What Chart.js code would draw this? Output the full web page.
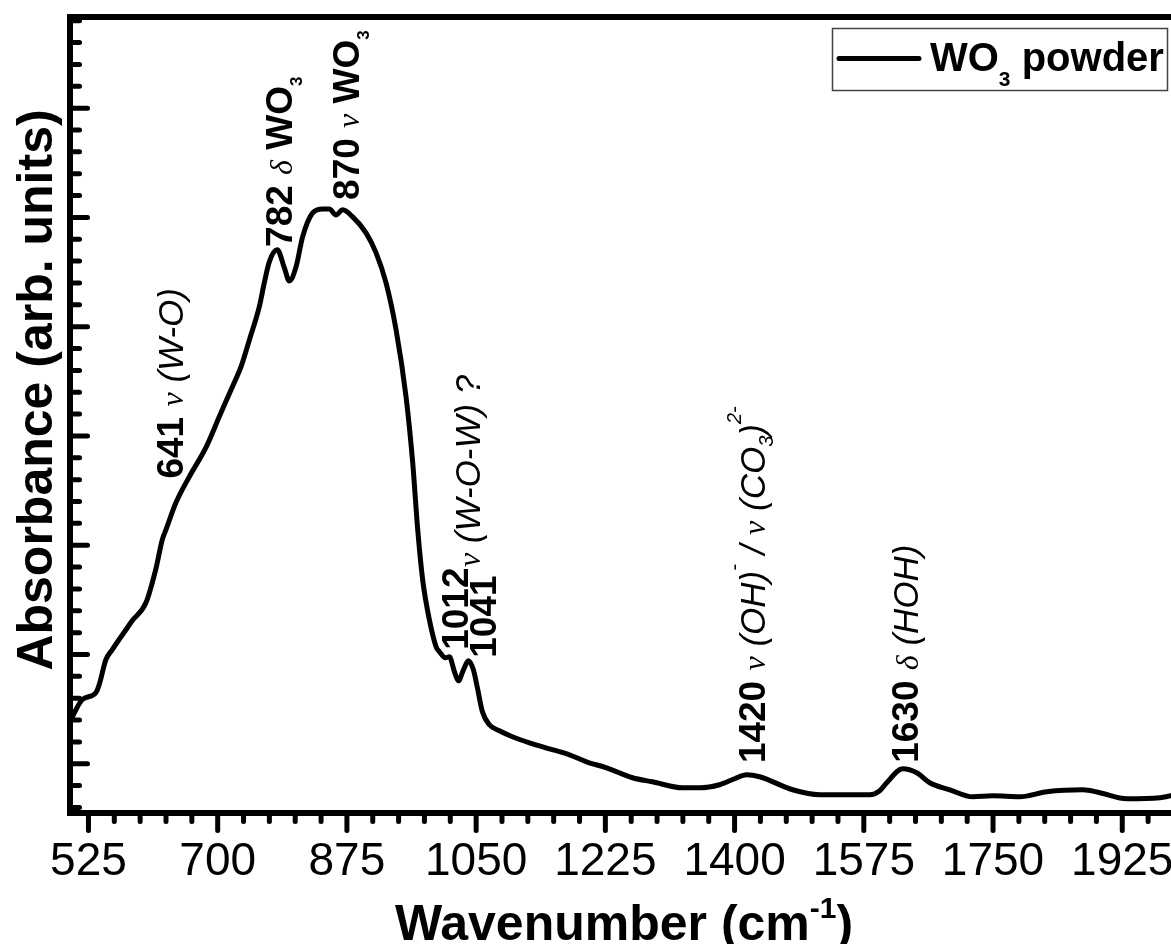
<!DOCTYPE html>
<html>
<head>
<meta charset="utf-8">
<script src="https://cdn.jsdelivr.net/npm/chart.js@4.4.1/dist/chart.umd.min.js"></script>
<style>
    html, body { margin: 0; padding: 0; background: #fff; overflow: hidden; }
    #wrap { width: 1171px; height: 944px; }
</style>
</head>
<body>
<div id="wrap"><canvas id="spectrum" width="1171" height="944"></canvas></div>
<script>
// FTIR spectrum - WO3 powder
const wavenumbers = [
    501.1, 516.5, 535.0, 539.5, 548.6, 557.1, 575.7, 584.2, 602.8, 616.3,
    624.9, 629.9, 643.4, 661.5, 684.5, 702.1, 719.8, 731.5, 742.9, 756.3,
    763.1, 769.9, 780.7, 790.3, 797.0, 806.1, 815.0, 828.6, 842.1, 851.2,
    860.3, 869.2, 882.8, 900.9, 914.5, 928.0, 941.6, 955.1, 964.1, 970.9,
    977.6, 986.7, 995.8, 1000.3, 1008.4, 1013.8, 1020.6, 1026.0, 1032.8, 1039.5,
    1046.3, 1051.7, 1058.5, 1068.0, 1081.5, 1099.2, 1122.2, 1149.3, 1176.4, 1199.5,
    1226.6, 1261.8, 1288.9, 1329.6, 1352.6, 1379.7, 1400.0, 1416.3, 1433.9, 1478.6,
    1515.2, 1555.9, 1583.0, 1596.5, 1606.0, 1627.7, 1646.7, 1664.3, 1691.4, 1722.6,
    1749.7, 1786.3, 1822.9, 1871.7, 1894.7, 1931.3, 1976.0, 1990.9
];
const absorbance = [
    0.403, 0.586, 0.650, 0.723, 0.952, 1.043, 1.226, 1.308, 1.473, 1.784,
    2.049, 2.141, 2.388, 2.626, 2.900, 3.175, 3.449, 3.632, 3.879, 4.181,
    4.401, 4.593, 4.703, 4.538, 4.419, 4.547, 4.822, 5.041, 5.078, 5.078,
    5.023, 5.069, 5.005, 4.859, 4.675, 4.401, 3.971, 3.358, 2.754, 2.141,
    1.683, 1.317, 1.070, 1.025, 0.970, 0.979, 0.842, 0.759, 0.860, 0.942,
    0.860, 0.695, 0.476, 0.357, 0.302, 0.247, 0.192, 0.137, 0.082, 0.018,
    -0.037, -0.128, -0.165, -0.220, -0.220, -0.192, -0.137, -0.101, -0.119, -0.238,
    -0.284, -0.284, -0.284, -0.247, -0.174, -0.046, -0.082, -0.174, -0.238, -0.302,
    -0.293, -0.302, -0.256, -0.238, -0.265, -0.320, -0.311, -0.293
];
const xTickLabels = [525, 700, 875, 1050, 1225, 1400, 1575, 1750, 1925];
const yMajorTicks = [0, 1, 2, 3, 4, 5, 6];
const seriesName = 'WO3 powder';

const X_MIN = 500, X_MAX = 1991;
const Y_MIN = -0.446, Y_MAX = 6.834;

// fonts
const SANS = '"Liberation Sans", Arial, sans-serif';
const B = 'bold 37px ' + SANS;
const I = 'italic 35px ' + SANS;
const G = 'italic 32px "Liberation Serif", serif';
const SB = 'bold 17px ' + SANS;
const SI = 'italic 20px ' + SANS;

// peak labels, anchored in data units (start of the rotated baseline)
const peakLabels = [
    { at: [653, 2.61], parts: [['641 ', B], ['ν', G], [' (W-O)', I]] },
    { at: [800.6, 4.73], parts: [['782 ', B], ['δ', G], [' WO', B], ['3', SB, 10]] },
    { at: [890.9, 5.16], parts: [['870 ', B], ['ν', G], [' WO', B], ['3', SB, 10]] },
    { at: [1038.6, 1.043], parts: [['1012', B]] },
    { at: [1055.8, 1.80], parts: [['ν', G], [' (W-O-W) ?', I]] },
    { at: [1077.1, 0.97], parts: [['1041', B]] },
    { at: [1440.7, 0.006], parts: [['1420 ', B], ['ν', G], [' (OH)', I], ['-', SI, -24], [' / ', I], ['ν', G], [' (CO', I], ['3', SI, 8], [')', I], ['2-', SI, -24]] },
    { at: [1648.1, 0.009], parts: [['1630 ', B], ['δ', G], [' (HOH)', I]] }
];

function drawRich(ctx, x, y, angle, parts, align) {
    ctx.save();
    ctx.translate(x, y);
    ctx.rotate(angle);
    ctx.textBaseline = 'alphabetic';
    ctx.textAlign = 'left';
    let total = 0;
    parts.forEach(p => { ctx.font = p[1]; total += ctx.measureText(p[0]).width; });
    let cx = align === 'center' ? -total / 2 : 0;
    parts.forEach(p => {
        ctx.font = p[1];
        ctx.fillText(p[0], cx, p[2] || 0);
        cx += ctx.measureText(p[0]).width;
    });
    ctx.restore();
}

const spectrumDecor = {
    id: 'spectrumDecor',
    afterDraw(chart) {
        const { ctx, chartArea: a, scales: { x, y } } = chart;
        ctx.save();
        ctx.strokeStyle = '#000';
        ctx.fillStyle = '#000';

        // top frame
        ctx.lineWidth = 6;
        ctx.beginPath();
        ctx.moveTo(a.left - 3, a.top);
        ctx.lineTo(a.right, a.top);
        ctx.stroke();

        // ticks
        ctx.lineWidth = 5;
        ctx.lineCap = 'round';
        const xStep = (xTickLabels[1] - xTickLabels[0]) / 5;
        let xv = xTickLabels[0];
        while (xv - xStep >= x.min) xv -= xStep;
        for (; xv <= x.max; xv += xStep) {
            const major = xTickLabels.some(t => Math.abs(t - xv) < 1e-6);
            const px = x.getPixelForValue(xv);
            ctx.beginPath();
            ctx.moveTo(px, a.bottom);
            ctx.lineTo(px, a.bottom + (major ? 18 : 9));
            ctx.stroke();
        }
        const yStep = (yMajorTicks[1] - yMajorTicks[0]) / 5;
        let yv = yMajorTicks[0];
        while (yv - yStep >= y.min) yv -= yStep;
        for (; yv <= y.max; yv += yStep) {
            const major = yMajorTicks.some(t => Math.abs(t - yv) < 1e-6);
            const py = y.getPixelForValue(yv);
            ctx.beginPath();
            ctx.moveTo(a.left, py);
            ctx.lineTo(a.left + (major ? 17.5 : 9.5), py);
            ctx.stroke();
        }

        // axis titles
        drawRich(ctx, 52, 390, -Math.PI / 2, [['Absorbance (arb. units)', 'bold 50px ' + SANS]], 'center');
        drawRich(ctx, 624, 940, 0, [['Wavenumber (cm', 'bold 50px ' + SANS], ['-1', 'bold 30px ' + SANS, -22], [')', 'bold 50px ' + SANS]], 'center');

        // peak labels
        peakLabels.forEach(l => {
            drawRich(ctx, x.getPixelForValue(l.at[0]), y.getPixelForValue(l.at[1]), -Math.PI / 2, l.parts, 'left');
        });

        // legend
        ctx.lineWidth = 1.5;
        ctx.lineCap = 'butt';
        ctx.strokeStyle = '#444';
        ctx.strokeRect(832.5, 28.5, 335, 62);
        ctx.strokeStyle = '#000';
        ctx.lineWidth = 5;
        ctx.lineCap = 'round';
        ctx.beginPath();
        ctx.moveTo(839, 58.5);
        ctx.lineTo(919, 58.5);
        ctx.stroke();
        drawRich(ctx, 930, 70.5, 0, [['WO', 'bold 40px ' + SANS], ['3', 'bold 21px ' + SANS, 15], [' powder', 'bold 40px ' + SANS]], 'left');

        ctx.restore();
    }
};

new Chart(document.getElementById('spectrum'), {
    type: 'line',
    data: {
        datasets: [{
            label: seriesName,
            data: wavenumbers.map((w, i) => ({ x: w, y: absorbance[i] })),
            borderColor: '#000',
            borderWidth: 5,
            pointRadius: 0,
            fill: false,
            cubicInterpolationMode: 'monotone',
            borderJoinStyle: 'round',
            borderCapStyle: 'round'
        }]
    },
    options: {
        responsive: false,
        animation: false,
        devicePixelRatio: 1,
        layout: { padding: { top: 17, right: 0, bottom: 0, left: 0 } },
        plugins: { legend: { display: false }, tooltip: { enabled: false } },
        scales: {
            x: {
                type: 'linear',
                min: X_MIN,
                max: X_MAX,
                afterBuildTicks: (s) => { s.ticks = xTickLabels.map(v => ({ value: v })); },
                ticks: {
                    font: { family: 'Liberation Sans', size: 46 },
                    color: '#000',
                    padding: 22,
                    autoSkip: false,
                    maxRotation: 0,
                    callback: (v) => String(v)
                },
                grid: { display: false, drawTicks: false },
                border: { display: true, width: 6, color: '#000' },
                afterFit: (s) => { s.height = 131.5; s.paddingLeft = 0; s.paddingRight = 0; }
            },
            y: {
                type: 'linear',
                min: Y_MIN,
                max: Y_MAX,
                ticks: { display: false },
                grid: { display: false, drawTicks: false },
                border: { display: true, width: 6, color: '#000' },
                afterFit: (s) => { s.width = 70; }
            }
        }
    },
    plugins: [spectrumDecor]
});
</script>
</body>
</html>
